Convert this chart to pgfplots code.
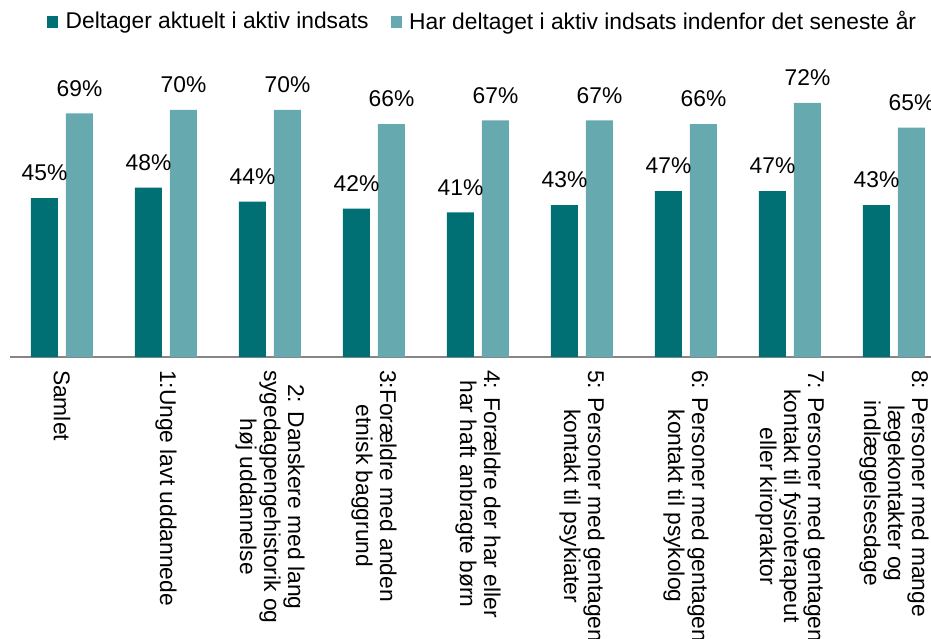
\documentclass[border=0pt]{standalone}
\usepackage{fontspec}
\setmainfont{Liberation Sans}
\usepackage{pgfplots}
\pgfplotsset{compat=1.18}
\definecolor{darkteal}{RGB}{0,112,117}
\definecolor{lightteal}{RGB}{102,170,175}
\definecolor{axisgray}{RGB}{134,134,134}

\begin{document}
\begin{tikzpicture}
\begin{scope}
\clip (0,0) rectangle (465.5pt,319pt);
\begin{axis}[
    at={(5pt,140.5pt)}, anchor=south west,
    scale only axis,
    width=468pt, height=176.5pt,
    xmin=-0.5, xmax=8.5,
    ymin=0, ymax=100,
    axis y line=none,
    axis x line=bottom,
    x axis line style={axisgray, line width=1pt, -},
    xtick={0,...,8},
    major tick length=0pt,
    xticklabels={Samlet,
        {1:Unge lavt uddannede},
        {2: Danskere med lang\\sygedagpengehistorik og\\høj uddannelse},
        {3:Forældre med anden\\etnisk baggrund},
        {4: Forældre der har eller\\har haft anbragte børn},
        {5: Personer med gentagen\\kontakt til psykiater},
        {6: Personer med gentagen\\kontakt til psykolog},
        {7: Personer med gentagen\\kontakt til fysioterapeut\\eller kiropraktor},
        {8: Personer med mange\\lægekontakter og\\indlæggelsesdage}},
    xticklabel shift=3pt,
    xticklabel style={rotate=-90, anchor=west, align=center,
        font=\fontsize{11.4}{12}\selectfont},
    ybar=4pt,
    bar width=13.5pt,
    nodes near coords={\pgfmathprintnumber{\pgfplotspointmeta}\%},
    /pgf/number format/assume math mode=true,
    every node near coord/.append style={font=\fontsize{11.4}{13}\selectfont,
        text=black, yshift=5pt},
    legend columns=2,
    legend style={at={(0.5060,0.949)}, anchor=center, draw=none,
        font=\fontsize{11.4}{13}\selectfont,
        /tikz/every odd column/.append style={column sep=1.8pt},
        /tikz/every even column/.append style={column sep=9pt}},
    legend image code/.code={\fill[#1] (0pt,-2.9pt) rectangle (5.5pt,2.9pt);},
]
\addplot[fill=darkteal, draw=none] coordinates {
    (0,45) (1,48) (2,44) (3,42) (4,41) (5,43) (6,47) (7,47) (8,43)};
\addlegendentry{Deltager aktuelt i aktiv indsats}
\addplot[fill=lightteal, draw=none] coordinates {
    (0,69) (1,70) (2,70) (3,66) (4,67) (5,67) (6,66) (7,72) (8,65)};
\addlegendentry{Har deltaget i aktiv indsats indenfor det seneste år}
\end{axis}
\end{scope}
\path[use as bounding box] (0,0) rectangle (465.5pt,319pt);
\end{tikzpicture}
\end{document}
